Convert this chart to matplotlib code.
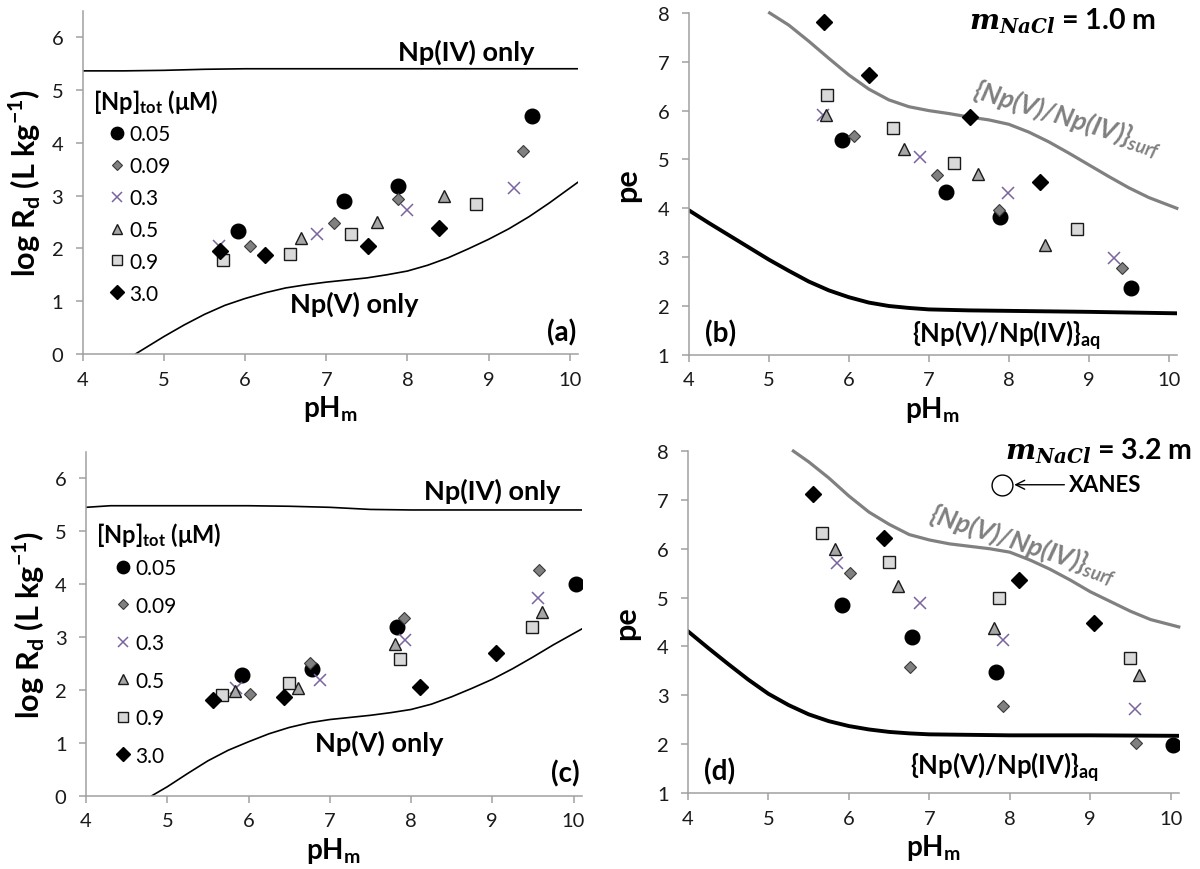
import numpy as np
import matplotlib.pyplot as plt

plt.rcParams['font.family'] = ['Lato', 'DejaVu Sans']
plt.rcParams['mathtext.fontset'] = 'custom'
plt.rcParams['mathtext.rm'] = 'Lato'
plt.rcParams['mathtext.bf'] = 'Lato:bold'
plt.rcParams['mathtext.sf'] = 'Lato:italic:bold'
plt.rcParams['mathtext.it'] = 'DejaVu Serif:italic:bold'

conc_labels = ['0.05', '0.09', '0.3', '0.5', '0.9', '3.0']

# 1.0 m NaCl  -> panels (a), (b)   (one row per [Np]tot)
ph_1m = [[5.91, 7.22, 7.89, 9.53],
         [6.06, 7.10, 7.88, 9.42],
         [5.68, 6.89, 7.99, 9.31],
         [5.72, 6.69, 7.62, 8.45],
         [5.73, 6.55, 7.31, 8.85],
         [5.69, 6.25, 7.52, 8.39]]
logrd_1m = [[2.33, 2.89, 3.18, 4.51],
            [2.05, 2.48, 2.93, 3.84],
            [2.05, 2.27, 2.73, 3.15],
            [np.nan, 2.19, 2.49, 3.00],
            [1.78, 1.90, 2.28, 2.84],
            [1.94, 1.87, 2.04, 2.39]]
pe_1m = [[5.40, 4.33, 3.82, 2.37],
         [5.47, 4.68, 3.97, 2.78],
         [5.90, 5.05, 4.31, 2.99],
         [5.90, 5.22, 4.70, 3.25],
         [6.31, 5.64, 4.92, 3.58],
         [7.81, 6.73, 5.86, 4.53]]

# 3.2 m NaCl -> panels (c), (d)
ph_3m = [[5.92, 6.78, 7.83, 10.03],
         [6.02, 6.76, 7.91, 9.57],
         [5.85, 6.88, 7.92, 9.56],
         [5.83, 6.61, 7.80, 9.61],
         [5.67, 6.50, 7.87, 9.49],
         [5.56, 6.44, 8.11, 9.05]]
logrd_3m = [[2.28, 2.40, 3.19, 4.01],
            [1.93, 2.50, 3.35, 4.26],
            [2.04, 2.18, 2.94, 3.73],
            [1.98, 2.03, 2.86, 3.47],
            [1.90, 2.13, 2.58, 3.19],
            [1.81, 1.87, 2.06, 2.69]]
pe_3m = [[4.84, 4.19, 3.47, 1.98],
         [5.50, 3.58, 2.78, 2.03],
         [5.71, 4.89, 4.14, 2.72],
         [5.99, 5.23, 4.37, 3.42],
         [6.32, 5.73, 5.00, 3.76],
         [7.13, 6.23, 5.36, 4.47]]

xanes_ph = [7.90]
xanes_pe = [7.31]

# model curves
np4_ph_a = [4.0, 4.5, 5.0, 5.5, 6.0, 6.5, 7.0, 8.0, 9.0, 10.1]
np4_rd_a = [5.36, 5.36, 5.37, 5.39, 5.40, 5.40, 5.40, 5.40, 5.40, 5.40]
np5_ph_a = [4.65, 5.0, 5.25, 5.5, 5.75, 6.0, 6.25, 6.5, 6.75, 7.0, 7.25, 7.5, 7.75, 8.0,
            8.25, 8.5, 8.75, 9.0, 9.25, 9.5, 9.75, 10.1]
np5_rd_a = [0.0, 0.33, 0.55, 0.75, 0.92, 1.05, 1.16, 1.25, 1.31, 1.36, 1.40, 1.44, 1.50, 1.57,
            1.68, 1.82, 1.99, 2.17, 2.37, 2.60, 2.86, 3.25]
np4_ph_c = [4.0, 4.3, 5.0, 6.0, 6.5, 7.0, 7.5, 8.0, 9.0, 10.1]
np4_rd_c = [5.45, 5.48, 5.48, 5.48, 5.47, 5.45, 5.41, 5.40, 5.40, 5.40]
np5_ph_c = [4.81, 5.0, 5.25, 5.5, 5.75, 6.0, 6.25, 6.5, 6.75, 7.0, 7.25, 7.5, 7.75, 8.0,
            8.25, 8.5, 8.75, 9.0, 9.25, 9.5, 9.75, 10.1]
np5_rd_c = [0.0, 0.17, 0.42, 0.66, 0.86, 1.02, 1.17, 1.29, 1.38, 1.44, 1.48, 1.52, 1.57, 1.63,
            1.73, 1.87, 2.03, 2.20, 2.40, 2.62, 2.85, 3.15]

surf_ph_b = [5.01, 5.25, 5.5, 5.75, 6.0, 6.25, 6.5, 6.75, 7.0, 7.25, 7.5, 7.75, 8.0, 8.25,
             8.5, 8.75, 9.0, 9.25, 9.5, 9.75, 10.1]
surf_pe_b = [8.0, 7.75, 7.42, 7.07, 6.73, 6.44, 6.22, 6.08, 6.0, 5.94, 5.87, 5.81, 5.72, 5.56,
             5.36, 5.13, 4.89, 4.65, 4.42, 4.22, 4.0]
surf_ph_d = [5.31, 5.5, 5.75, 6.0, 6.25, 6.5, 6.75, 7.0, 7.25, 7.5, 7.75, 8.0, 8.25, 8.5,
             8.75, 9.0, 9.25, 9.5, 9.75, 10.1]
surf_pe_d = [8.0, 7.78, 7.45, 7.08, 6.75, 6.5, 6.29, 6.18, 6.10, 6.05, 6.0, 5.93, 5.77, 5.58,
             5.36, 5.12, 4.92, 4.72, 4.55, 4.4]
aq_ph = [4.0, 4.25, 4.5, 4.75, 5.0, 5.25, 5.5, 5.75, 6.0, 6.25, 6.5, 6.75, 7.0, 7.5, 8.0, 9.0, 10.1]
aq_pe_b = [3.96, 3.70, 3.45, 3.20, 2.95, 2.72, 2.50, 2.32, 2.18, 2.07, 2.00, 1.96, 1.93, 1.91,
           1.90, 1.88, 1.85]
aq_pe_d = [4.31, 3.97, 3.64, 3.32, 3.03, 2.80, 2.61, 2.47, 2.37, 2.30, 2.25, 2.22, 2.20, 2.19,
           2.18, 2.18, 2.17]

styles = [dict(marker='o', ms=10.5, mfc='black', mec='black'),
          dict(marker='D', ms=6.5, mfc='#808080', mec='#3a3a3a', mew=0.8),
          dict(marker='x', ms=9, mec='#7a64a0', mew=1.1),
          dict(marker='^', ms=9, mfc='#a6a6a6', mec='#1a1a1a', mew=1.0),
          dict(marker='s', ms=9, mfc='#d9d9d9', mec='#1a1a1a', mew=1.0),
          dict(marker='D', ms=8.5, mfc='black', mec='black')]

axis_gray = '#a0a0a0'


def style_axes(ax, ylim, yticks):
    ax.set_xlim(4, 10.1)
    ax.set_ylim(*ylim)
    ax.set_xticks(range(4, 11))
    ax.set_yticks(yticks)
    for s in ['top', 'right']:
        ax.spines[s].set_visible(False)
    for s in ['left', 'bottom']:
        ax.spines[s].set_color(axis_gray)
        ax.spines[s].set_linewidth(1.1)
    ax.tick_params(direction='out', length=5, width=1.1, color=axis_gray,
                   labelsize=14.5, labelcolor='#1a1a1a')
    ax.tick_params(axis='x', pad=7)
    ax.tick_params(axis='y', pad=9)
    ax.set_xlabel(r'pH$_\mathbf{m}$', fontsize=20, fontweight='bold', labelpad=4)


def scatter_all(ax, xs, ys):
    handles = []
    for x, y, st in zip(xs, ys, styles):
        h, = ax.plot(x, y, ls='none', **st)
        handles.append(h)
    return handles


fig = plt.figure(figsize=(12, 8.7), dpi=100)
ax_a = fig.add_axes([0.069, 0.592, 0.4125, 0.3946])
ax_b = fig.add_axes([0.574, 0.591, 0.4067, 0.393])
ax_c = fig.add_axes([0.0717, 0.0842, 0.413, 0.3954])
ax_d = fig.add_axes([0.5733, 0.0874, 0.409, 0.393])

bold = dict(fontweight='bold')

# ---- (a) and (c): log Rd
for ax, ph, rd, np4x, np4y, np5x, np5y, tag, leg in [
        (ax_a, ph_1m, logrd_1m, np4_ph_a, np4_rd_a, np5_ph_a, np5_rd_a, '(a)', (0.052, 0.669, 0.57, 4.79)),
        (ax_c, ph_3m, logrd_3m, np4_ph_c, np4_rd_c, np5_ph_c, np5_rd_c, '(c)', (0.057, 0.691, 0.84, 4.94))]:
    style_axes(ax, (0, 6.5), range(0, 7))
    ax.plot(np4x, np4y, color='black', lw=1.2)
    ax.plot(np5x, np5y, color='black', lw=1.2)
    hs = scatter_all(ax, ph, rd)
    ax.set_ylabel(r'log R$_\mathbf{d}$ (L kg$^\mathbf{-1}$)', fontsize=22, fontweight='bold', labelpad=6)
    ax.legend(hs, conc_labels, loc='upper left', bbox_to_anchor=(leg[0], leg[1]),
              frameon=False, fontsize=15, borderpad=0, handlelength=0.8, markerscale=0.85,
              handletextpad=0.2, labelspacing=leg[2], borderaxespad=0)
    ax.text(4.12, leg[3], r'[Np]$_\mathbf{tot}$ ($\mathbf{\mu}$M)',
            fontsize=17, va='center', ha='left', **bold)
    ax.text(10.08, 0.41 if tag == '(a)' else 0.44, tag, fontsize=20, ha='right', va='center', **bold)

ax_a.text(8.73, 5.73, 'Np(IV) only', fontsize=19.5, ha='center', va='center', **bold)
ax_a.text(7.34, 0.95, 'Np(V) only', fontsize=19.5, ha='center', va='center', **bold)
ax_c.text(9.0, 5.77, 'Np(IV) only', fontsize=19.5, ha='center', va='center', **bold)
ax_c.text(7.61, 1.01, 'Np(V) only', fontsize=19.5, ha='center', va='center', **bold)

# ---- (b) and (d): pe
for ax, ph, pe, sx, sy, aqy, tag in [(ax_b, ph_1m, pe_1m, surf_ph_b, surf_pe_b, aq_pe_b, '(b)'),
                                     (ax_d, ph_3m, pe_3m, surf_ph_d, surf_pe_d, aq_pe_d, '(d)')]:
    style_axes(ax, (1, 8), range(1, 9))
    ax.plot(sx, sy, color='#808080', lw=2.3, clip_on=False)
    ax.plot(aq_ph, aqy, color='black', lw=2.8)
    scatter_all(ax, ph, pe)
    ax.set_ylabel('pe', fontsize=22, fontweight='bold', labelpad=12)
    ax.text(4.2, 1.45, tag, fontsize=20, ha='left', va='center', **bold)

ax_b.text(6.79, 1.26, r'{Np(V)/Np(IV)}$_\mathbf{aq}$', fontsize=18.5, ha='left', va='baseline', **bold)
ax_d.text(6.76, 1.40, r'{Np(V)/Np(IV)}$_\mathbf{aq}$', fontsize=18.5, ha='left', va='baseline', **bold)
ax_b.text(7.53, 6.28, r'{Np(V)/Np(IV)}$_\mathsf{surf}$', fontsize=19, ha='left', va='baseline',
          rotation=-17, rotation_mode='anchor', color='#808080', style='italic', **bold)
ax_d.text(6.98, 6.57, r'{Np(V)/Np(IV)}$_\mathsf{surf}$', fontsize=19, ha='left', va='baseline',
          rotation=-18, rotation_mode='anchor', color='#808080', style='italic', **bold)
ax_b.text(7.50, 7.68, r'$m_{NaCl}$ = 1.0 m', fontsize=20.5, ha='left', va='baseline', clip_on=False, **bold)
ax_d.text(7.94, 7.84, r'$m_{NaCl}$ = 3.2 m', fontsize=20.5, ha='left', va='baseline', clip_on=False, **bold)

ax_d.plot(xanes_ph, xanes_pe, ls='none', marker='o', ms=15, mfc='white', mec='black', mew=1.0)
ax_d.annotate('XANES', xy=(xanes_ph[0], xanes_pe[0]), xytext=(8.73, xanes_pe[0]),
              fontsize=16, fontweight='bold', ha='left', va='center',
              arrowprops=dict(arrowstyle='->', color='black', lw=1.0, shrinkA=1, shrinkB=9))

fig.savefig('out.png', dpi=100)
